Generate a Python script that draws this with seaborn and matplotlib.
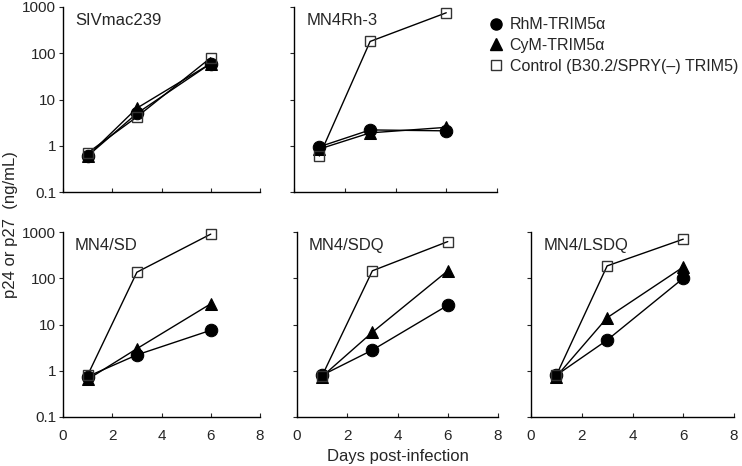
import numpy as np
import pandas as pd
import matplotlib
matplotlib.use("Agg")
import matplotlib.pyplot as plt
import seaborn as sns
from matplotlib.lines import Line2D
from matplotlib.ticker import FixedLocator, NullLocator

sns.set_theme(style="ticks")
plt.rcParams.update({
    "font.family": ["Liberation Sans", "DejaVu Sans"],
    "font.size": 12,
    "axes.linewidth": 1.0,
    "axes.edgecolor": "black",
})

days = [1, 3, 6]
series = ["RhM-TRIM5\u03b1", "CyM-TRIM5\u03b1", "Control (B30.2/SPRY(\u2013) TRIM5)"]
panels = ["SIVmac239", "MN4Rh-3", "MN4/SD", "MN4/SDQ", "MN4/LSDQ"]

# p24/p27 (ng/mL), per panel: RhM, CyM, Control at days 1, 3, 6
siv_rhm = [0.6, 5.0, 60]
siv_cym = [0.6, 6.5, 60]
siv_ctrl = [0.7, 4.2, 80]
rh3_rhm = [0.95, 2.2, 2.1]
rh3_cym = [0.85, 1.9, 2.5]
rh3_ctrl = [0.6, 180, 750]
sd_rhm = [0.75, 2.2, 7.5]
sd_cym = [0.65, 3.0, 28]
sd_ctrl = [0.8, 135, 900]
sdq_rhm = [0.8, 2.8, 26]
sdq_cym = [0.75, 6.8, 145]
sdq_ctrl = [0.78, 145, 620]
lsdq_rhm = [0.8, 4.6, 100]
lsdq_cym = [0.75, 14, 175]
lsdq_ctrl = [0.8, 185, 700]

values = {
    "SIVmac239": [siv_rhm, siv_cym, siv_ctrl],
    "MN4Rh-3": [rh3_rhm, rh3_cym, rh3_ctrl],
    "MN4/SD": [sd_rhm, sd_cym, sd_ctrl],
    "MN4/SDQ": [sdq_rhm, sdq_cym, sdq_ctrl],
    "MN4/LSDQ": [lsdq_rhm, lsdq_cym, lsdq_ctrl],
}

rows = []
for p in panels:
    for s, vals in zip(series, values[p]):
        for d, v in zip(days, vals):
            rows.append({"panel": p, "series": s, "day": d, "value": v})
df = pd.DataFrame(rows)

styles = {
    series[0]: dict(marker="o", markersize=9, markerfacecolor="black", markeredgecolor="black"),
    series[1]: dict(marker="^", markersize=9, markerfacecolor="black", markeredgecolor="black"),
    series[2]: dict(marker="s", markersize=7, markerfacecolor="none", markeredgecolor="#333333",
                    markeredgewidth=1.0),
}

W, H = 742, 466
fig = plt.figure(figsize=(W / 100, H / 100), dpi=100)

# panel rectangles in pixels: left, top, width, height
rects = {
    "SIVmac239": (63, 7, 197, 185),
    "MN4Rh-3": (294, 7, 203, 185),
    "MN4/SD": (63, 232, 197, 185),
    "MN4/SDQ": (297, 232, 201, 185),
    "MN4/LSDQ": (531, 232, 203, 185),
}

for p in panels:
    l, t, w, h = rects[p]
    ax = fig.add_axes([l / W, 1 - (t + h) / H, w / W, h / H])
    sub = df[df.panel == p]
    for s in series:
        sns.lineplot(data=sub[sub.series == s], x="day", y="value", color="black",
                     linewidth=1.0, ax=ax, legend=False, clip_on=False, **styles[s])
    ax.set_yscale("log")
    ax.set_ylim(0.1, 1000)
    ax.set_xlim(0, 8)
    ax.set_xlabel("")
    ax.set_ylabel("")
    sns.despine(ax=ax)
    ax.yaxis.set_major_locator(FixedLocator([0.1, 1, 10, 100, 1000]))
    ax.yaxis.set_minor_locator(NullLocator())
    ax.set_yticklabels(["0.1", "1", "10", "100", "1000"])
    ax.set_xticks([0, 2, 4, 6, 8])
    ax.tick_params(axis="x", direction="in", length=3, width=0.8, pad=9)
    ax.tick_params(axis="y", direction="out", length=3, width=0.8, pad=2)
    ax.text(0.06, 0.97, p, transform=ax.transAxes, ha="left", va="top", fontsize=12)
    if t < 100:
        ax.tick_params(axis="x", labelbottom=False)
    if l > 100:
        ax.tick_params(axis="y", labelleft=False)

# legend
handles = [
    Line2D([], [], linestyle="none", marker="o", markersize=8, color="black"),
    Line2D([], [], linestyle="none", marker="^", markersize=8, color="black"),
    Line2D([], [], linestyle="none", marker="s", markersize=7, markerfacecolor="none",
           markeredgecolor="#333333"),
]
fig.legend(handles, series, loc="upper left", bbox_to_anchor=(484 / W, 1 - 11 / H),
           frameon=False, handlelength=0.7, handletextpad=0.5, labelspacing=0.35,
           fontsize=11.5, borderaxespad=0)

fig.text(11 / W, 1 - 225 / H, "p24 or p27  (ng/mL)", rotation=90, ha="center", va="center",
         fontsize=12)
fig.text(398 / W, 1 - 456 / H, "Days post-infection", ha="center", va="center", fontsize=12)

fig.savefig("out.png", dpi=100)
